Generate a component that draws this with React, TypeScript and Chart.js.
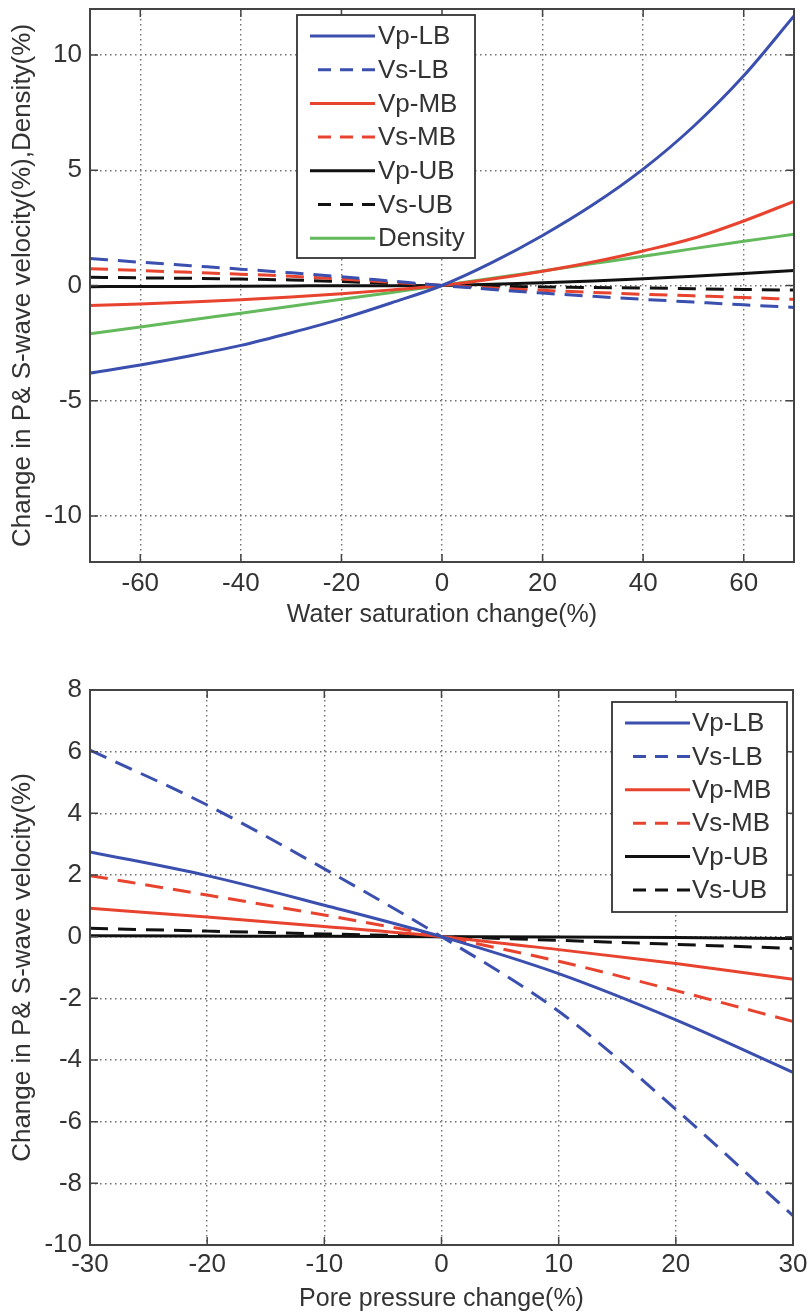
import React, { useEffect, useRef } from 'react';
import { Chart, registerables } from 'chart.js';

Chart.register(...registerables);

// ---------- Top chart data: water saturation change ----------
const satX = [-70, -60, -50, -40, -30, -20, -10, 0, 10, 20, 30, 40, 50, 60, 70];
const satVpLB = [-3.8, -3.45, -3.05, -2.6, -2.05, -1.45, -0.75, 0, 1.0, 2.17, 3.5, 5.05, 6.9, 9.1, 11.7];
const satVsLB = [1.17, 1.01, 0.86, 0.71, 0.55, 0.38, 0.19, 0, -0.17, -0.33, -0.47, -0.6, -0.72, -0.84, -0.95];
const satVpMB = [-0.87, -0.8, -0.72, -0.62, -0.5, -0.36, -0.19, 0, 0.28, 0.62, 1.02, 1.5, 2.05, 2.8, 3.65];
const satVsMB = [0.73, 0.65, 0.57, 0.49, 0.4, 0.28, 0.14, 0, -0.11, -0.21, -0.3, -0.38, -0.45, -0.52, -0.6];
const satVpUB = [-0.05, -0.04, -0.04, -0.03, -0.02, -0.01, -0.01, 0, 0.05, 0.12, 0.2, 0.29, 0.4, 0.52, 0.65];
const satVsUB = [0.36, 0.33, 0.31, 0.28, 0.24, 0.17, 0.09, 0, -0.03, -0.06, -0.09, -0.11, -0.14, -0.17, -0.2];
const satDensity = [-2.1, -1.8, -1.5, -1.2, -0.9, -0.6, -0.3, 0, 0.31, 0.63, 0.95, 1.27, 1.6, 1.92, 2.22];
const satXTicks = [-60, -40, -20, 0, 20, 40, 60];
const satYTicks = [-10, -5, 0, 5, 10];

// ---------- Bottom chart data: pore pressure change ----------
const poreX = [-30, -20, -10, 0, 10, 20, 30];
const poreVpLB = [2.75, 1.98, 1.02, 0, -1.2, -2.7, -4.4];
const poreVsLB = [6.05, 4.27, 2.2, 0, -2.42, -5.6, -9.05];
const poreVpMB = [0.92, 0.64, 0.33, 0, -0.42, -0.87, -1.38];
const poreVsMB = [1.98, 1.35, 0.7, 0, -0.8, -1.75, -2.75];
const poreVpUB = [0.03, 0.02, 0.01, 0, -0.01, -0.03, -0.06];
const poreVsUB = [0.27, 0.18, 0.09, 0, -0.12, -0.25, -0.38];
const poreXTicks = [-30, -20, -10, 0, 10, 20, 30];
const poreYTicks = [-10, -8, -6, -4, -2, 0, 2, 4, 6, 8];

const BLUE = '#3a4fae';
const RED = '#e8432e';
const GREEN = '#63b95b';
const BLACK = '#111111';
const FONT = '"Liberation Sans", Arial, sans-serif';
const TEXT = '#333333';

const series = (label: string, xs: number[], ys: number[], color: string, dashed: boolean) => ({
  label,
  data: xs.map((x, i) => ({ x, y: ys[i] })),
  borderColor: color,
  backgroundColor: color,
  borderWidth: 3,
  borderDash: dashed ? [18, 10] : [],
  pointRadius: 0,
  fill: false,
  cubicInterpolationMode: 'monotone' as const,
  dashed,
});

const axesBoxPlugin = {
  id: 'axesBox',
  afterDatasetsDraw(chart: any) {
    const { ctx, chartArea: a, scales } = chart;
    const xs = scales.x;
    const ys = scales.y;
    ctx.save();
    ctx.setLineDash([]);
    ctx.strokeStyle = '#444';
    ctx.lineWidth = 2;
    ctx.strokeRect(a.left, a.top, a.right - a.left, a.bottom - a.top);
    ctx.lineWidth = 1.5;
    const L = 8;
    ctx.beginPath();
    xs.ticks.forEach((t: any) => {
      const px = xs.getPixelForValue(t.value);
      ctx.moveTo(px, a.bottom);
      ctx.lineTo(px, a.bottom - L);
      ctx.moveTo(px, a.top);
      ctx.lineTo(px, a.top + L);
    });
    ys.ticks.forEach((t: any) => {
      const py = ys.getPixelForValue(t.value);
      ctx.moveTo(a.left, py);
      ctx.lineTo(a.left + L, py);
      ctx.moveTo(a.right, py);
      ctx.lineTo(a.right - L, py);
    });
    ctx.stroke();
    ctx.restore();
  },
};

const boxLegendPlugin = {
  id: 'boxLegend',
  afterDraw(chart: any, _args: any, o: any) {
    if (!o || !o.w) return;
    const { ctx } = chart;
    ctx.save();
    ctx.fillStyle = '#ffffff';
    ctx.fillRect(o.x, o.y, o.w, o.h);
    ctx.setLineDash([]);
    ctx.strokeStyle = '#333';
    ctx.lineWidth = 1.8;
    ctx.strokeRect(o.x, o.y, o.w, o.h);
    chart.data.datasets.forEach((ds: any, i: number) => {
      const cy = o.firstY + i * o.rowH;
      ctx.strokeStyle = ds.borderColor;
      ctx.lineWidth = 3;
      if (ds.dashed) {
        ctx.setLineDash([13, 9]);
        ctx.beginPath();
        ctx.moveTo(o.lineX1 + 8, cy);
        ctx.lineTo(o.lineX2, cy);
        ctx.stroke();
      } else {
        ctx.setLineDash([]);
        ctx.beginPath();
        ctx.moveTo(o.lineX1, cy);
        ctx.lineTo(o.lineX2, cy);
        ctx.stroke();
      }
      ctx.setLineDash([]);
      ctx.fillStyle = TEXT;
      ctx.font = `26px ${FONT}`;
      ctx.textAlign = 'left';
      ctx.textBaseline = 'middle';
      ctx.fillText(ds.label, o.textX, cy + 1);
    });
    ctx.restore();
  },
};

type Cfg = {
  width: number;
  height: number;
  datasets: any[];
  xMin: number;
  xMax: number;
  yMin: number;
  yMax: number;
  xTicks: number[];
  yTicks: number[];
  xTitle: string;
  yTitle: string;
  padTop: number;
  padRight: number;
  yAxisWidth: number;
  xAxisHeight: number;
  xTickPad: number;
  xTitlePadBottom: number;
  legend: any;
};

function makeConfig(c: Cfg): any {
  const tickFont = { family: FONT, size: 26 };
  return {
    type: 'line',
    data: { datasets: c.datasets },
    options: {
      responsive: false,
      animation: false,
      maintainAspectRatio: false,
      layout: { padding: { top: c.padTop, right: c.padRight, left: 0, bottom: 0 } },
      plugins: {
        legend: { display: false },
        tooltip: { enabled: false },
        boxLegend: c.legend,
      },
      scales: {
        x: {
          type: 'linear',
          min: c.xMin,
          max: c.xMax,
          afterBuildTicks: (axis: any) => {
            axis.ticks = c.xTicks.map((v) => ({ value: v }));
          },
          afterFit: (axis: any) => {
            axis.height = c.xAxisHeight;
            axis.paddingLeft = 0;
            axis.paddingRight = 0;
          },
          ticks: {
            autoSkip: false,
            maxRotation: 0,
            color: TEXT,
            font: tickFont,
            padding: c.xTickPad,
            callback: (v: any) => String(v),
          },
          grid: { color: '#6f6f6f', lineWidth: 1.4, drawTicks: false },
          border: { display: false, dash: [1.5, 3.5] },
          title: {
            display: true,
            text: c.xTitle,
            color: TEXT,
            font: { family: FONT, size: 25 },
            padding: { top: 0, bottom: c.xTitlePadBottom },
          },
        },
        y: {
          type: 'linear',
          min: c.yMin,
          max: c.yMax,
          afterBuildTicks: (axis: any) => {
            axis.ticks = c.yTicks.map((v) => ({ value: v }));
          },
          afterFit: (axis: any) => {
            axis.width = c.yAxisWidth;
            axis.paddingTop = 0;
            axis.paddingBottom = 0;
          },
          ticks: {
            autoSkip: false,
            color: TEXT,
            font: tickFont,
            padding: 8,
            callback: (v: any) => String(v),
          },
          grid: { color: '#6f6f6f', lineWidth: 1.4, drawTicks: false },
          border: { display: false, dash: [1.5, 3.5] },
          title: {
            display: true,
            text: c.yTitle,
            color: TEXT,
            font: tickFont,
            padding: { top: 7, bottom: 0 },
          },
        },
      },
    },
    plugins: [axesBoxPlugin, boxLegendPlugin],
  };
}

function ChartCanvas({ cfg, top }: { cfg: Cfg; top: number }) {
  const ref = useRef<HTMLCanvasElement | null>(null);
  useEffect(() => {
    if (!ref.current) return;
    const chart = new Chart(ref.current, makeConfig(cfg));
    return () => chart.destroy();
  }, []);
  return (
    <canvas
      ref={ref}
      width={cfg.width}
      height={cfg.height}
      style={{ position: 'absolute', left: 0, top, width: cfg.width, height: cfg.height, display: 'block' }}
    />
  );
}

const topCfg: Cfg = {
  width: 810,
  height: 650,
  datasets: [
    series('Vp-LB', satX, satVpLB, BLUE, false),
    series('Vs-LB', satX, satVsLB, BLUE, true),
    series('Vp-MB', satX, satVpMB, RED, false),
    series('Vs-MB', satX, satVsMB, RED, true),
    series('Vp-UB', satX, satVpUB, BLACK, false),
    series('Vs-UB', satX, satVsUB, BLACK, true),
    series('Density', satX, satDensity, GREEN, false),
  ],
  xMin: -70,
  xMax: 70,
  yMin: -12,
  yMax: 12,
  xTicks: satXTicks,
  yTicks: satYTicks,
  xTitle: 'Water saturation change(%)',
  yTitle: 'Change in P& S-wave velocity(%),Density(%)',
  padTop: 9,
  padRight: 16,
  yAxisWidth: 90,
  xAxisHeight: 88,
  xTickPad: 6,
  xTitlePadBottom: 20,
  legend: { x: 297, y: 15, w: 178, h: 243, firstY: 36, rowH: 33.7, lineX1: 310, lineX2: 375, textX: 378 },
};

const bottomCfg: Cfg = {
  width: 810,
  height: 664,
  datasets: [
    series('Vp-LB', poreX, poreVpLB, BLUE, false),
    series('Vs-LB', poreX, poreVsLB, BLUE, true),
    series('Vp-MB', poreX, poreVpMB, RED, false),
    series('Vs-MB', poreX, poreVsMB, RED, true),
    series('Vp-UB', poreX, poreVpUB, BLACK, false),
    series('Vs-UB', poreX, poreVsUB, BLACK, true),
  ],
  xMin: -30,
  xMax: 30,
  yMin: -10,
  yMax: 8,
  xTicks: poreXTicks,
  yTicks: poreYTicks,
  xTitle: 'Pore pressure change(%)',
  yTitle: 'Change in P& S-wave velocity(%)',
  padTop: 40,
  padRight: 17,
  yAxisWidth: 90,
  xAxisHeight: 69,
  xTickPad: 4,
  xTitlePadBottom: 0,
  legend: { x: 612, y: 52, w: 175, h: 210, firstY: 73, rowH: 33.4, lineX1: 625, lineX2: 690, textX: 692 },
};

export default function App() {
  return (
    <div style={{ position: 'absolute', left: 0, top: 0, width: 810, height: 1314, background: '#ffffff' }}>
      <ChartCanvas cfg={topCfg} top={0} />
      <ChartCanvas cfg={bottomCfg} top={650} />
    </div>
  );
}
